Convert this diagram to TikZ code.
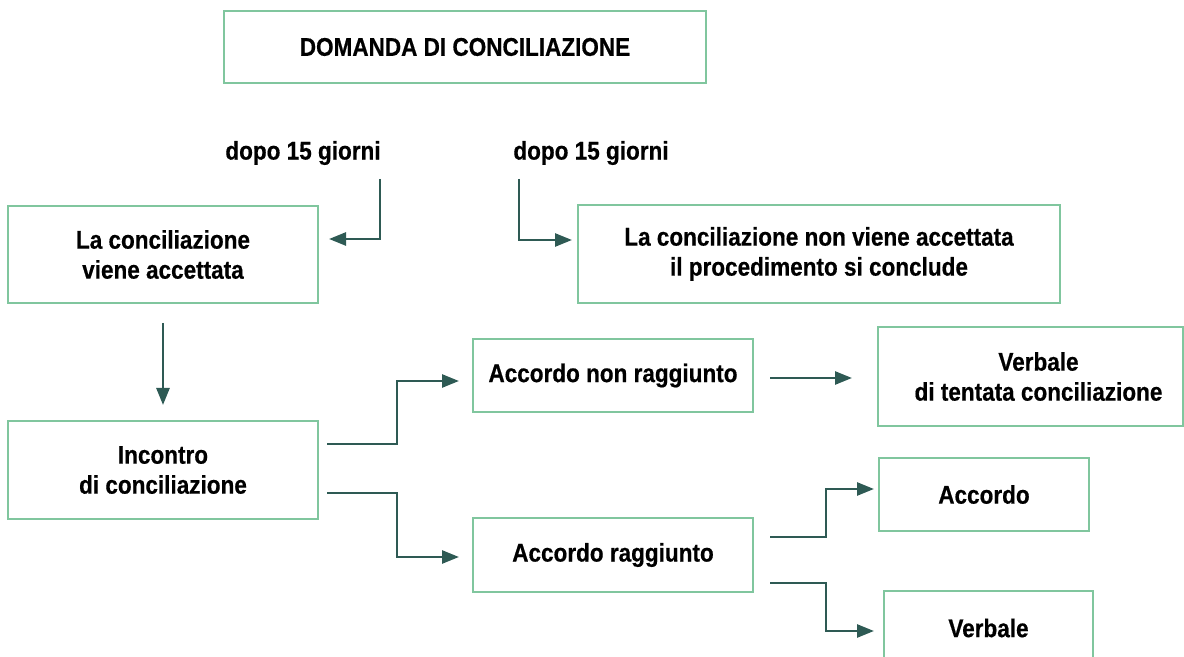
\documentclass[tikz,border=0pt]{standalone}
\usepackage{fontspec}
\newfontfamily\cf{Liberation Sans}[FakeStretch=0.88, BoldFeatures={FakeBold=0.5}]
\usetikzlibrary{arrows.meta}
\definecolor{boxgreen}{RGB}{128,198,158}
\definecolor{arrteal}{RGB}{46,90,84}
\tikzset{
  box/.style={draw=boxgreen, line width=1pt, rectangle, inner sep=0pt, align=center,
     font=\cf\bfseries\fontsize{12.8}{15}\selectfont},
  lbl/.style={inner sep=0pt, font=\cf\bfseries\fontsize{12.8}{15}\selectfont},
  arr/.style={draw=arrteal, line width=1.3pt, -{Triangle[length=8.5pt,width=6.5pt]}}
}
\begin{document}
\begin{tikzpicture}[x=0.5pt,y=-0.5pt]
\useasboundingbox (0,0) rectangle (1184,657);
% boxes
\node[box, minimum width=241pt, minimum height=36pt] (dom) at (465,47) {DOMANDA DI CONCILIAZIONE};
\node[box, minimum width=155pt, minimum height=48.5pt] (acc) at (163,254.5) {La conciliazione\\viene accettata};
\node[box, minimum width=241pt, minimum height=49pt] (nacc) at (819,254) {La conciliazione non viene accettata\\il procedimento si conclude};
\node[box, minimum width=155pt, minimum height=49pt] (inc) at (163,470) {Incontro\\di conciliazione};
\node[box, minimum width=140pt, minimum height=36.5pt] (anr) at (613,375.5) {Accordo non raggiunto};
\node[box, minimum width=152.5pt, minimum height=49.5pt] (vtc) at (1030.5,376.5) {\hspace*{8pt}Verbale\\\hspace*{8pt}di tentata conciliazione};
\node[box, minimum width=140pt, minimum height=37pt] (ar) at (613,555) {Accordo raggiunto};
\node[box, minimum width=105pt, minimum height=36.5pt] (acd) at (984,494.5) {Accordo};
\node[box, minimum width=104.5pt, minimum height=37pt] (vb) at (988.5,628) {Verbale};
% labels
\node[lbl] (d1) at (303,153) {dopo 15 giorni};
\node[lbl] (d2) at (591,153) {dopo 15 giorni};
% connector coordinates
\coordinate (s1) at (380,179); \coordinate (t1) at (329,239);
\coordinate (s2) at (519,179); \coordinate (t2) at (572,240);
\coordinate (s3) at (163,323); \coordinate (t3) at (163,405);
\coordinate (s4) at (327,444); \coordinate (m4) at (397,444); \coordinate (t4) at (459,381);
\coordinate (s5) at (327,493); \coordinate (m5) at (397,493); \coordinate (t5) at (459,557);
\coordinate (s6) at (770,378); \coordinate (t6) at (852,378);
\coordinate (s7) at (770,537); \coordinate (m7) at (826,537); \coordinate (t7) at (874,489);
\coordinate (s8) at (770,583); \coordinate (m8) at (826,583); \coordinate (t8) at (874,631);
% connectors
\draw[arr] (s1) |- (t1);
\draw[arr] (s2) |- (t2);
\draw[arr] (s3) -- (t3);
\draw[arr] (s4) -- (m4) |- (t4);
\draw[arr] (s5) -- (m5) |- (t5);
\draw[arr] (s6) -- (t6);
\draw[arr] (s7) -- (m7) |- (t7);
\draw[arr] (s8) -- (m8) |- (t8);
\end{tikzpicture}
\end{document}
